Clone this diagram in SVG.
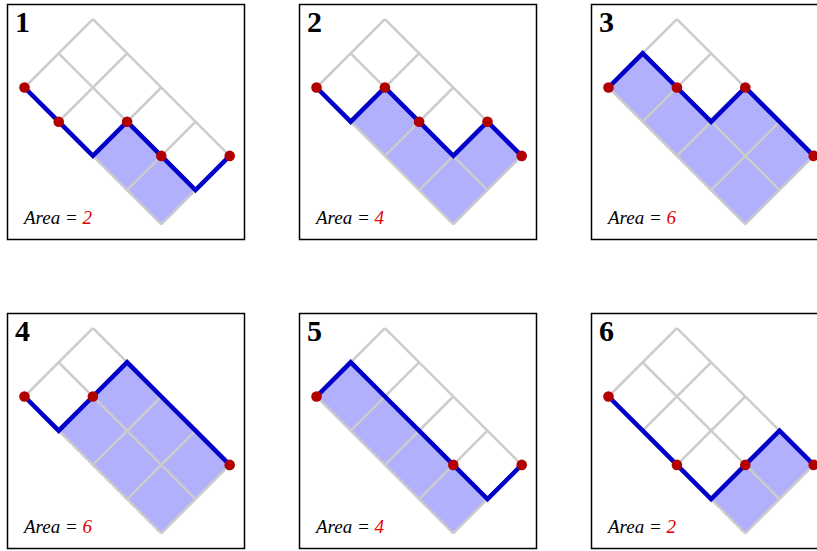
<svg xmlns="http://www.w3.org/2000/svg" xmlns:xlink="http://www.w3.org/1999/xlink" width="817" height="551" viewBox="0 0 817 551">
<style>
.box{fill:#fff;stroke:#000;stroke-width:1.5}
.grid{fill:none;stroke:#cccccc;stroke-width:2.5}
.shade{fill:#b0b0fc;stroke:none}
.route{fill:none;stroke:#0000c8;stroke-width:4.5;stroke-linejoin:miter}
.dot{fill:#b00000}
.num{font-family:"Liberation Serif",serif;font-weight:bold;font-size:30px;fill:#000}
.area{font-family:"Liberation Serif",serif;font-style:italic;font-size:19px;fill:#000}
.val{fill:#dd0000}
</style>
<defs>
<g id="gridlines" class="grid">
<line x1="24.5" y1="87.5" x2="161.3" y2="224.3"/>
<line x1="58.7" y1="53.3" x2="195.5" y2="190.1"/>
<line x1="92.9" y1="19.1" x2="229.7" y2="155.9"/>
<line x1="24.5" y1="87.5" x2="92.9" y2="19.1"/>
<line x1="58.7" y1="121.7" x2="127.1" y2="53.3"/>
<line x1="92.9" y1="155.9" x2="161.3" y2="87.5"/>
<line x1="127.1" y1="190.1" x2="195.5" y2="121.7"/>
<line x1="161.3" y1="224.3" x2="229.7" y2="155.9"/>
</g>
</defs>

<g id="panel1">
<rect class="box" x="7.5" y="4.5" width="237" height="235"/>
<polygon class="shade" points="24.5,87.5 58.7,121.7 92.9,155.9 127.1,121.7 161.3,155.9 195.5,190.1 229.7,155.9 161.3,224.3"/>
<use xlink:href="#gridlines"/>
<polyline class="route" points="24.5,87.5 58.7,121.7 92.9,155.9 127.1,121.7 161.3,155.9 195.5,190.1 229.7,155.9"/>
<circle class="dot" cx="24.5" cy="87.5" r="5.3"/><circle class="dot" cx="58.7" cy="121.7" r="5.3"/><circle class="dot" cx="127.1" cy="121.7" r="5.3"/><circle class="dot" cx="161.3" cy="155.9" r="5.3"/><circle class="dot" cx="229.7" cy="155.9" r="5.3"/>
<text class="num" x="15" y="32">1</text>
<text class="area" x="24" y="224">Area = <tspan class="val">2</tspan></text>
</g>

<g id="panel2" transform="translate(292,0)">
<rect class="box" x="7.5" y="4.5" width="237" height="235"/>
<polygon class="shade" points="24.5,87.5 58.7,121.7 92.9,87.5 127.1,121.7 161.3,155.9 195.5,121.7 229.7,155.9 161.3,224.3"/>
<use xlink:href="#gridlines"/>
<polyline class="route" points="24.5,87.5 58.7,121.7 92.9,87.5 127.1,121.7 161.3,155.9 195.5,121.7 229.7,155.9"/>
<circle class="dot" cx="24.5" cy="87.5" r="5.3"/><circle class="dot" cx="92.9" cy="87.5" r="5.3"/><circle class="dot" cx="127.1" cy="121.7" r="5.3"/><circle class="dot" cx="195.5" cy="121.7" r="5.3"/><circle class="dot" cx="229.7" cy="155.9" r="5.3"/>
<text class="num" x="15" y="32">2</text>
<text class="area" x="24" y="224">Area = <tspan class="val">4</tspan></text>
</g>

<g id="panel3" transform="translate(584,0)">
<rect class="box" x="7.5" y="4.5" width="237" height="235"/>
<polygon class="shade" points="24.5,87.5 58.7,53.3 92.9,87.5 127.1,121.7 161.3,87.5 195.5,121.7 229.7,155.9 161.3,224.3"/>
<use xlink:href="#gridlines"/>
<polyline class="route" points="24.5,87.5 58.7,53.3 92.9,87.5 127.1,121.7 161.3,87.5 195.5,121.7 229.7,155.9"/>
<circle class="dot" cx="24.5" cy="87.5" r="5.3"/><circle class="dot" cx="92.9" cy="87.5" r="5.3"/><circle class="dot" cx="161.3" cy="87.5" r="5.3"/><circle class="dot" cx="229.7" cy="155.9" r="5.3"/>
<text class="num" x="15" y="32">3</text>
<text class="area" x="24" y="224">Area = <tspan class="val">6</tspan></text>
</g>

<g id="panel4" transform="translate(0,309)">
<rect class="box" x="7.5" y="4.5" width="237" height="235"/>
<polygon class="shade" points="24.5,87.5 58.7,121.7 92.9,87.5 127.1,53.3 161.3,87.5 195.5,121.7 229.7,155.9 161.3,224.3"/>
<use xlink:href="#gridlines"/>
<polyline class="route" points="24.5,87.5 58.7,121.7 92.9,87.5 127.1,53.3 161.3,87.5 195.5,121.7 229.7,155.9"/>
<circle class="dot" cx="24.5" cy="87.5" r="5.3"/><circle class="dot" cx="92.9" cy="87.5" r="5.3"/><circle class="dot" cx="229.7" cy="155.9" r="5.3"/>
<text class="num" x="15" y="32">4</text>
<text class="area" x="24" y="224">Area = <tspan class="val">6</tspan></text>
</g>

<g id="panel5" transform="translate(292,309)">
<rect class="box" x="7.5" y="4.5" width="237" height="235"/>
<polygon class="shade" points="24.5,87.5 58.7,53.3 92.9,87.5 127.1,121.7 161.3,155.9 195.5,190.1 229.7,155.9 161.3,224.3"/>
<use xlink:href="#gridlines"/>
<polyline class="route" points="24.5,87.5 58.7,53.3 92.9,87.5 127.1,121.7 161.3,155.9 195.5,190.1 229.7,155.9"/>
<circle class="dot" cx="24.5" cy="87.5" r="5.3"/><circle class="dot" cx="161.3" cy="155.9" r="5.3"/><circle class="dot" cx="229.7" cy="155.9" r="5.3"/>
<text class="num" x="15" y="32">5</text>
<text class="area" x="24" y="224">Area = <tspan class="val">4</tspan></text>
</g>

<g id="panel6" transform="translate(584,309)">
<rect class="box" x="7.5" y="4.5" width="237" height="235"/>
<polygon class="shade" points="24.5,87.5 58.7,121.7 92.9,155.9 127.1,190.1 161.3,155.9 195.5,121.7 229.7,155.9 161.3,224.3"/>
<use xlink:href="#gridlines"/>
<polyline class="route" points="24.5,87.5 58.7,121.7 92.9,155.9 127.1,190.1 161.3,155.9 195.5,121.7 229.7,155.9"/>
<circle class="dot" cx="24.5" cy="87.5" r="5.3"/><circle class="dot" cx="92.9" cy="155.9" r="5.3"/><circle class="dot" cx="161.3" cy="155.9" r="5.3"/><circle class="dot" cx="229.7" cy="155.9" r="5.3"/>
<text class="num" x="15" y="32">6</text>
<text class="area" x="24" y="224">Area = <tspan class="val">2</tspan></text>
</g>

<g id="connectors"/>
</svg>
